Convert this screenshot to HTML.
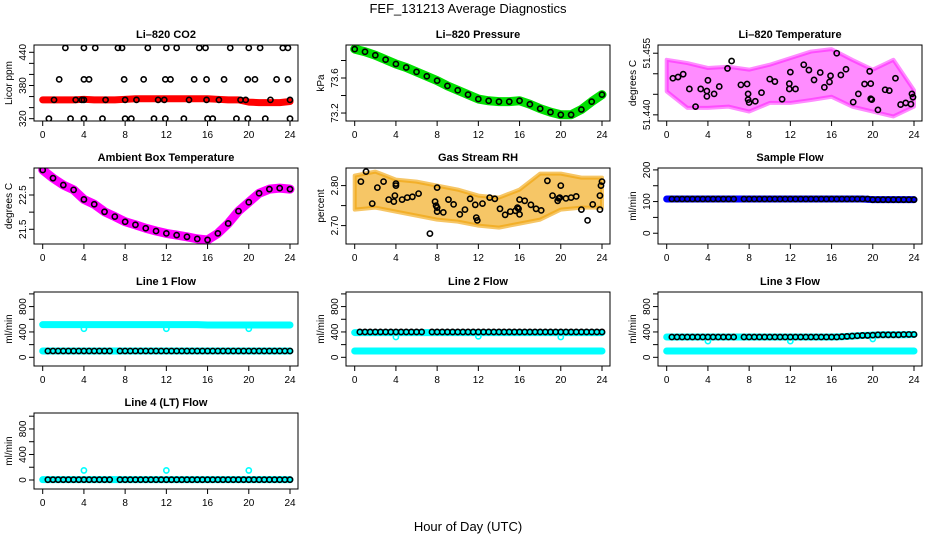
<!DOCTYPE html>
<html><head><meta charset="utf-8">
<style>
body{margin:0;background:#fff;}
svg{display:block;font-family:"Liberation Sans",Arial,sans-serif;}
</style></head>
<body>
<svg id="chart" width="936" height="540" viewBox="0 0 936 540">
<text x="468" y="13" text-anchor="middle" font-size="13">FEF_131213  Average Diagnostics</text>
<text x="468" y="531" text-anchor="middle" font-size="13">Hour of Day (UTC)</text>
</svg>
<script>
// ---------- data ----------
const hours = [0,1,2,3,4,5,6,7,8,9,10,11,12,13,14,15,16,17,18,19,20,21,22,23,24];
const hours2 = [0,2,4,6,8,10,12,14,16,18,20,22,24];
const halfHours = [0.5,1,1.5,2,2.5,3,3.5,4,4.5,5,5.5,6,6.5,7.5,8,8.5,9,9.5,10,10.5,11,11.5,12,12.5,13,13.5,14,14.5,15,15.5,16,16.5,17,17.5,18,18.5,19,19.5,20,20.5,21,21.5,22,22.5,23,23.5,24];
const xTicks = [0,4,8,12,16,20,24];

// CO2
const co2Red = [354,354,354,354,355,354,354,354,355,356,356,356,356,356,356,356,356,355,354,354,350,349,349,349,351];
const co2BlackHours = [2.2,4,5.1,7.3,7.7,10.2,12,13,15.2,15.8,18.2,20,21.1,23.3,23.8, 1.6,4,4.5,7.9,9.8,11.9,12.4,14.7,15.9,17.6,19.9,20.6,22.7,23.8, 1.1,3.2,3.8,4,6.1,8,9.1,11.2,11.8,14.2,15.9,17.1,19.2,19.7,22.1,24, 0.6,2.7,4,5.8,8,8.6,10.8,11.9,13.7,16,16.5,18.8,19.9,21.6,24];
const co2BlackVals = [448,448,448,448,448,448,448,448,448,448,448,448,448,448,448, 391,391,391,391,391,391,391,391,391,391,391,391,391,391, 354,354,354,354,354,354,354,354,354,354,354,354,354,354,354,354, 320,320,320,320,320,320,320,320,320,320,320,320,320,320,320];

// Pressure
const pressVals = [73.93,73.90,73.86,73.81,73.76,73.72,73.67,73.62,73.57,73.51,73.46,73.41,73.36,73.34,73.33,73.33,73.34,73.30,73.25,73.21,73.18,73.18,73.24,73.33,73.41];

// Li-820 temperature
const ltUpper = [51.4534,51.4526,51.4514,51.4517,51.4510,51.4522,51.4538,51.4554,51.4560,51.4534,51.4510,51.4534,51.4460];
const ltLower = [51.4457,51.4417,51.4417,51.4420,51.4408,51.4429,51.4429,51.4436,51.4444,51.4420,51.4408,51.4396,51.4420];
const ltBlackHours = [0.6,1.1,1.6,2.2,2.8,3.3,3.9,3.9,4,4.6,5.1,5.9,6.3,7.2,7.8,7.9,7.9,8,8.6,9.2,10,10.5,11.2,11.9,11.9,12,12.5,13.3,13.8,14.3,14.9,15.3,15.8,15.9,16.5,16.9,17.4,18.1,18.6,19.2,19.7,19.8,19.8,19.9,20.5,21.2,21.6,22.2,22.7,23.2,23.7,23.8,23.9];
const ltBlackVals = [51.4489,51.4492,51.4499,51.4463,51.4420,51.4463,51.4458,51.4445,51.4484,51.4451,51.4469,51.4513,51.4531,51.4473,51.4475,51.4451,51.4437,51.4430,51.4433,51.4454,51.4487,51.4481,51.4438,51.4476,51.4463,51.4504,51.4463,51.4522,51.4509,51.4485,51.4503,51.4467,51.4480,51.4495,51.4550,51.4497,51.4511,51.4431,51.4451,51.4475,51.4506,51.4476,51.4439,51.4437,51.4412,51.4461,51.4459,51.4489,51.4425,51.4429,51.4426,51.4451,51.4443];

// Ambient box temperature
const ambVals = [23.23,22.99,22.79,22.65,22.37,22.23,22.01,21.87,21.72,21.63,21.53,21.45,21.38,21.33,21.28,21.22,21.19,21.38,21.67,22.03,22.29,22.55,22.67,22.70,22.67];

// Gas stream RH
const rhUpper = [2.825,2.835,2.815,2.810,2.800,2.790,2.775,2.770,2.790,2.830,2.830,2.820,2.820];
const rhLower = [2.740,2.745,2.735,2.725,2.715,2.710,2.700,2.695,2.705,2.715,2.740,2.745,2.745];
const rhBlackHours = [0.6,1.1,1.7,2.2,2.8,3.3,3.8,3.9,4,4,4.6,5.1,5.6,6.2,7.3,7.8,7.9,8,8,8,8.6,9.1,9.6,10.2,10.7,11.2,11.7,11.8,11.9,12.4,13.1,13.6,14.1,14.6,15.1,15.6,15.8,15.9,16,16,16.5,17.1,17.6,18.1,18.7,19.2,19.7,19.8,19.9,20,20.5,21,21.5,22,22.6,23.1,23.8,23.8,23.9,24];
const rhBlackVals = [2.81,2.835,2.755,2.795,2.81,2.765,2.76,2.775,2.80,2.805,2.765,2.77,2.772,2.78,2.68,2.76,2.75,2.745,2.735,2.795,2.733,2.765,2.753,2.728,2.74,2.767,2.752,2.72,2.713,2.755,2.77,2.767,2.742,2.727,2.735,2.737,2.745,2.742,2.728,2.765,2.762,2.752,2.742,2.738,2.812,2.775,2.762,2.768,2.77,2.80,2.768,2.77,2.773,2.74,2.713,2.753,2.74,2.775,2.80,2.81];

// Flows
const sampleBlue = [108,108,108,108,108,108,108,108,108,108,108,108,108,108,108,108,108,108,108,108,106,106,106,106,106];
const sampleBlack = [108,108,108,108,108,108,108,108,108,108,108,108,108,108,108,108,108,108,108,108,108,108,108,108,108,108,108,108,108,108,108,108,108,108,108,108,108,108,106,106,106,106,106,106,106,106,106];
const line1CyanHigh = [515,515,515,515,515,515,515,515,515,515,515,515,515,515,515,515,510,510,510,510,510,510,510,510,510];
const line1CyanLow = [100,100,100,100,100,100,100,100,100,100,100,100,100,100,100,100,100,100,100,100,100,100,100,100,100];
const line1Black = [100,100,100,100,100,100,100,100,100,100,100,100,100,100,100,100,100,100,100,100,100,100,100,100,100,100,100,100,100,100,100,100,100,100,100,100,100,100,100,100,100,100,100,100,100,100,100];
const line2CyanHigh = [390,390,390,390,390,390,390,390,390,390,390,390,390,390,390,390,390,390,390,390,390,390,390,390,390];
const line2CyanLow = [100,100,100,100,100,100,100,100,100,100,100,100,100,100,100,100,100,100,100,100,100,100,100,100,100];
const line2Black = [400,400,400,400,400,400,400,400,400,400,400,400,400,400,400,400,400,400,400,400,400,400,400,400,400,400,400,400,400,400,400,400,400,400,400,400,400,400,400,400,400,400,400,400,400,400,400];
const line3CyanHigh = [320,320,320,320,320,320,320,320,320,320,320,320,320,320,320,320,320,325,335,345,350,355,355,355,360];
const line3CyanLow = [100,100,100,100,100,100,100,100,100,100,100,100,100,100,100,100,100,100,100,100,100,100,100,100,100];
const line3Black = [320,320,320,320,320,320,320,320,320,320,320,320,320,320,320,320,320,320,320,320,320,320,320,320,320,320,320,320,320,320,320,320,325,330,335,340,345,345,350,355,355,355,355,355,360,360,360];
const line4Cyan = [5,5,5,5,5,5,5,5,5,5,5,5,5,5,5,5,5,5,5,5,5,5,5,5,5];
const line4Black = [5,5,5,5,5,5,5,5,5,5,5,5,5,5,5,5,5,5,5,5,5,5,5,5,5,5,5,5,5,5,5,5,5,5,5,5,5,5,5,5,5,5,5,5,5,5,5];
const dipHours = [4,12,20];
const line1Dips = [450,450,450];
const line2Dips = [320,330,320];
const line3Dips = [255,255,290];
const line4Dips = [150,150,150];

const flowTicks = [0,200,400,600,800,1000];
const flowLabels = ['0','','400','','800',''];

// ---------- drawing ----------
const svg = document.getElementById('chart');
const NS = 'http://www.w3.org/2000/svg';
const rowTop = [45,168,292,413];
const rowBot = [121,244,366,489];
function mk(tag, attrs, parent){
  const e = document.createElementNS(NS, tag);
  for (const k in attrs) e.setAttribute(k, attrs[k]);
  (parent||svg).appendChild(e);
  return e;
}
function panel(col,row,name,title,ylab,ylim,ticks,labels,layers){
  const g = mk('g',{});
  
  
  const cx = col*312;
  const L = 34+cx, R = 298+cx, T = rowTop[row], B = rowBot[row];
  const xs = h => 42.7+cx + h*(247.3/24);
  const ys = v => B - (v-ylim[0])/(ylim[1]-ylim[0])*(B-T);
  const clip = mk('clipPath',{id:'clip'+name}, g);
  mk('rect',{x:L,y:T,width:R-L,height:B-T}, clip);
  const plot = mk('g',{'clip-path':'url(#clip'+name+')'}, g);
  for (const ly of layers){
    if (ly.type==='line'){
      const p = mk('polyline',{points: ly.x.map((h,i)=>xs(h)+','+ys(ly.y[i])).join(' '), fill:'none', stroke:ly.color, 'stroke-width':ly.w, 'stroke-linejoin':'round','stroke-linecap':'round'}, plot);
      
      
    } else if (ly.type==='env'){
      const pts = ly.x.map((h,i)=>xs(h)+','+ys(ly.up[i])).concat(ly.x.slice().reverse().map((h,i)=>xs(h)+','+ys(ly.lo[ly.x.length-1-i])));
      const p = mk('polygon',{points:pts.join(' '), fill:ly.color, 'fill-opacity':ly.op, stroke:ly.color, 'stroke-width':4, 'stroke-opacity':ly.op, 'stroke-linejoin':'round'}, plot);
      
      
    } else {
      ly.x.forEach((h,i)=>{
        const c = mk('circle',{cx:xs(h), cy:ys(ly.y[i]), r:ly.r||2.6, fill:'none', stroke:ly.color, 'stroke-width':1.6}, plot);
        
        
      });
    }
  }
  const box = mk('rect',{x:L,y:T,width:R-L,height:B-T,fill:'none',stroke:'#000','stroke-width':1}, g);
  
  
  const t = mk('text',{x:(L+R)/2, y:T-7, 'text-anchor':'middle','font-size':11,'font-weight':'bold'}, g);
  t.textContent = title;
  
  
  const yl = mk('text',{x:0,y:0,'text-anchor':'middle','font-size':10,transform:`translate(${L-22},${(T+B)/2}) rotate(-90)`}, g);
  yl.textContent = ylab;
  
  
  xTicks.forEach(h=>{
    mk('line',{x1:xs(h),x2:xs(h),y1:B,y2:B+5,stroke:'#000'}, g);
    const tx = mk('text',{x:xs(h), y:B+17,'text-anchor':'middle','font-size':10}, g);
    tx.textContent = h;
    
    
  });
  ticks.forEach((v,i)=>{
    const y = ys(v);
    mk('line',{x1:L-5,x2:L,y1:y,y2:y,stroke:'#000'}, g);
    if (labels[i]){
      const tx = mk('text',{x:0,y:0,'text-anchor':'middle','font-size':10,transform:`translate(${L-8},${y}) rotate(-90)`}, g);
      tx.textContent = labels[i];
      
      
    }
  });
}

panel(0,0,'co2','Li\u2013820 CO2','Licor ppm',[315.8,453.2],[320,340,360,380,400,420,440],['320','','','380','','','440'],[
  {type:'line',x:hours,y:co2Red,color:'#ff0000',w:7,name:'co2-red-series'},
  {type:'pts',x:co2BlackHours,y:co2BlackVals,color:'#000',name:'co2-black-point'}]);
panel(1,0,'pressure','Li\u2013820 Pressure','kPa',[73.109,73.977],[73.2,73.4,73.6,73.8],['73.2','','73.6',''],[
  {type:'line',x:hours,y:pressVals,color:'#00e000',w:9,name:'pressure-green-series'},
  {type:'pts',x:hours,y:pressVals,color:'#000',name:'pressure-black-point'}]);
panel(2,0,'li820-temp','Li\u2013820 Temperature','degrees C',[51.4385,51.4570],[51.440,51.445,51.450,51.455],['51.440','','','51.455'],[
  {type:'env',x:hours2,up:ltUpper,lo:ltLower,color:'#ff00ff',op:0.45,name:'li820-temp-magenta-series'},
  {type:'pts',x:ltBlackHours,y:ltBlackVals,color:'#000',name:'li820-temp-black-point'}]);
panel(0,1,'ambient-temp','Ambient Box Temperature','degrees C',[21.071,23.287],[21.5,22.0,22.5,23.0],['21.5','','22.5',''],[
  {type:'line',x:hours,y:ambVals,color:'#ff00ff',w:9,name:'ambient-temp-magenta-series'},
  {type:'pts',x:hours,y:ambVals,color:'#000',name:'ambient-temp-black-point'}]);
panel(1,1,'gas-rh','Gas Stream RH','percent',[2.654,2.844],[2.70,2.75,2.80],['2.70','','2.80'],[
  {type:'env',x:hours2,up:rhUpper,lo:rhLower,color:'#f0a000',op:0.6,name:'gas-rh-orange-series'},
  {type:'pts',x:rhBlackHours,y:rhBlackVals,color:'#000',name:'gas-rh-black-point'}]);
panel(2,1,'sample-flow','Sample Flow','ml/min',[-34,206],[0,50,100,150,200],['0','','100','','200'],[
  {type:'line',x:hours,y:sampleBlue,color:'#0000ff',w:7,name:'sample-flow-blue-series'},
  {type:'pts',x:halfHours,y:sampleBlack,color:'#000',name:'sample-flow-black-point'}]);
panel(0,2,'line1-flow','Line 1 Flow','ml/min',[-137,1030],flowTicks,flowLabels,[
  {type:'line',x:hours,y:line1CyanHigh,color:'#00ffff',w:7,name:'line1-cyan-high-series'},
  {type:'line',x:hours,y:line1CyanLow,color:'#00ffff',w:7,name:'line1-cyan-low-series'},
  {type:'pts',x:dipHours,y:line1Dips,color:'#00ffff',name:'line1-cyan-dip'},
  {type:'pts',x:halfHours,y:line1Black,color:'#000',name:'line1-black-point'}]);
panel(1,2,'line2-flow','Line 2 Flow','ml/min',[-137,1030],flowTicks,flowLabels,[
  {type:'line',x:hours,y:line2CyanHigh,color:'#00ffff',w:7,name:'line2-cyan-high-series'},
  {type:'line',x:hours,y:line2CyanLow,color:'#00ffff',w:7,name:'line2-cyan-low-series'},
  {type:'pts',x:dipHours,y:line2Dips,color:'#00ffff',name:'line2-cyan-dip'},
  {type:'pts',x:halfHours,y:line2Black,color:'#000',name:'line2-black-point'}]);
panel(2,2,'line3-flow','Line 3 Flow','ml/min',[-137,1030],flowTicks,flowLabels,[
  {type:'line',x:hours,y:line3CyanHigh,color:'#00ffff',w:7,name:'line3-cyan-high-series'},
  {type:'line',x:hours,y:line3CyanLow,color:'#00ffff',w:7,name:'line3-cyan-low-series'},
  {type:'pts',x:dipHours,y:line3Dips,color:'#00ffff',name:'line3-cyan-dip'},
  {type:'pts',x:halfHours,y:line3Black,color:'#000',name:'line3-black-point'}]);
panel(0,3,'line4-flow','Line 4 (LT) Flow','ml/min',[-141,1050],flowTicks,flowLabels,[
  {type:'line',x:hours,y:line4Cyan,color:'#00ffff',w:7,name:'line4-cyan-series'},
  {type:'pts',x:dipHours,y:line4Dips,color:'#00ffff',name:'line4-cyan-dip'},
  {type:'pts',x:halfHours,y:line4Black,color:'#000',name:'line4-black-point'}]);
</script>
</body></html>
